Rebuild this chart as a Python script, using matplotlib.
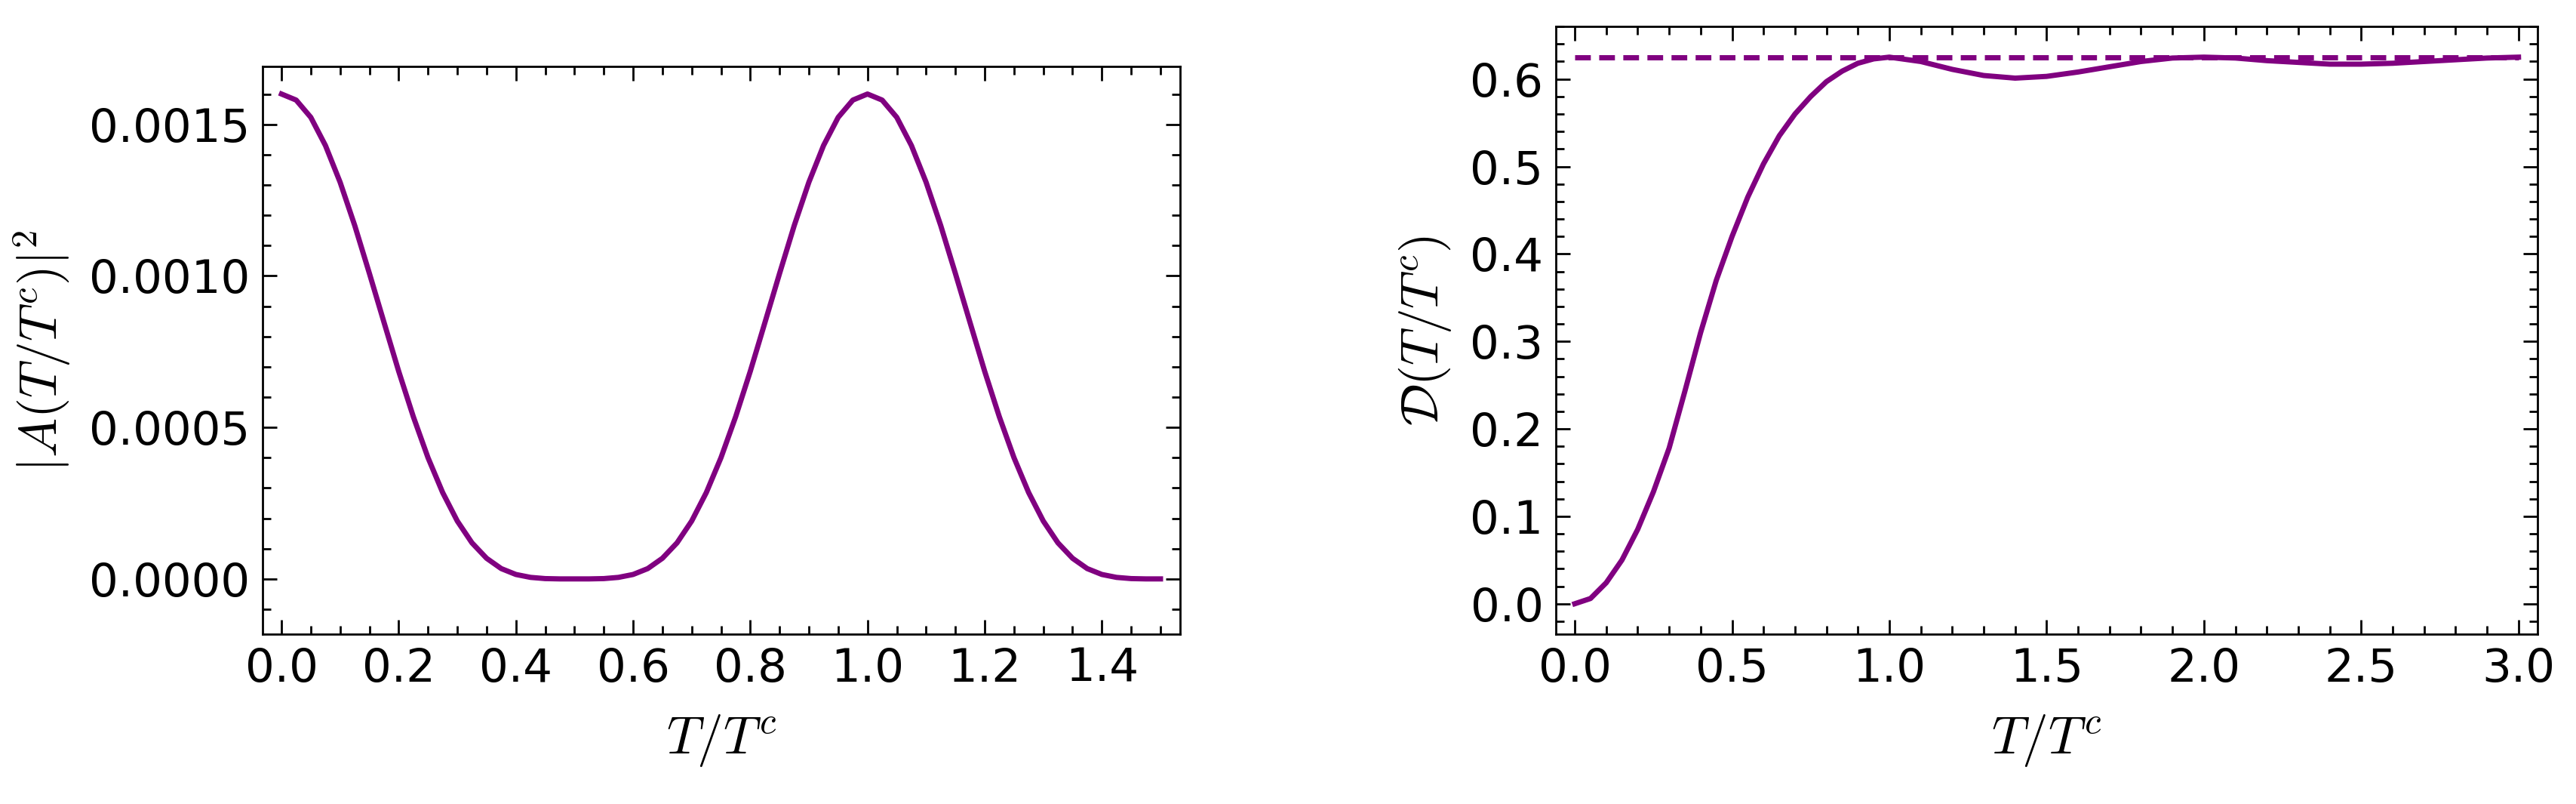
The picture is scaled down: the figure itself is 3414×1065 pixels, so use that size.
import matplotlib
matplotlib.use("Agg")
import matplotlib.pyplot as plt
from matplotlib.ticker import MultipleLocator, FormatStrFormatter

plt.rcParams["font.family"] = ["Liberation Sans Narrow", "DejaVu Sans"]
plt.rcParams["mathtext.fontset"] = "cm"

# left panel: |A(T/T^c)|^2, read off at steps of 0.025 (units of 1e-4)
# one falling half period (0 -> 0.5), the picture repeats it mirrored
half_fall = [16.0, 15.80, 15.23, 14.30, 13.09, 11.66, 10.08, 8.46, 6.85, 5.35, 4.0,
             2.85, 1.91, 1.19, 0.68, 0.34, 0.146, 0.05, 0.01, 0.0, 0.0]
a_left = half_fall + half_fall[::-1][1:] + half_fall[1:]
a_left = [v * 1e-4 for v in a_left]
x_left = [i * 0.025 for i in range(len(a_left))]

# right panel: D(T/T^c)
x_right = [0.0, 0.05, 0.1, 0.15, 0.2, 0.25, 0.3, 0.35, 0.4, 0.45, 0.5, 0.55, 0.6,
           0.65, 0.7, 0.75, 0.8, 0.85, 0.9, 0.95, 1.0,
           1.1, 1.2, 1.3, 1.4, 1.5, 1.6, 1.7, 1.8, 1.9, 2.0,
           2.1, 2.2, 2.3, 2.4, 2.5, 2.6, 2.7, 2.8, 2.9, 3.0]
d_right = [0.0, 0.006, 0.024, 0.05, 0.085, 0.128, 0.178, 0.243, 0.31, 0.37, 0.42, 0.465, 0.503,
           0.535, 0.56, 0.58, 0.597, 0.609, 0.618, 0.623, 0.625,
           0.620, 0.611, 0.604, 0.601, 0.603, 0.608, 0.614, 0.620, 0.624, 0.625,
           0.624, 0.621, 0.619, 0.617, 0.617, 0.618, 0.620, 0.622, 0.624, 0.625]
d_limit = 0.625

purple = "#800080"
fig = plt.figure(figsize=(34.14, 10.65), dpi=100)
ax1 = fig.add_axes([0.102, 0.211, 0.356, 0.706])
ax2 = fig.add_axes([0.604, 0.211, 0.381, 0.756])

ax1.plot(x_left, a_left, color=purple, lw=5)
ax1.set_xlim(-0.032, 1.533)
ax1.set_ylim(-0.000183, 0.00169)
ax1.xaxis.set_major_locator(MultipleLocator(0.2))
ax1.xaxis.set_minor_locator(MultipleLocator(0.05))
ax1.yaxis.set_major_locator(MultipleLocator(0.0005))
ax1.yaxis.set_minor_locator(MultipleLocator(0.0001))
ax1.yaxis.set_major_formatter(FormatStrFormatter("%.4f"))
ax1.xaxis.set_major_formatter(FormatStrFormatter("%.1f"))
ax1.set_xlabel(r"$T/T^c$", fontsize=50, labelpad=20)
ax1.set_ylabel(r"$|A(T/T^c)|^2$", fontsize=50, labelpad=16)

ax2.plot(x_right, d_right, color=purple, lw=5)
ax2.plot([x_right[0], x_right[-1]], [d_limit, d_limit], color=purple, lw=5,
         ls=(0, (3, 1.6)))
ax2.set_xlim(-0.06, 3.06)
ax2.set_ylim(-0.035, 0.66)
ax2.xaxis.set_major_locator(MultipleLocator(0.5))
ax2.xaxis.set_minor_locator(MultipleLocator(0.1))
ax2.yaxis.set_major_locator(MultipleLocator(0.1))
ax2.yaxis.set_minor_locator(MultipleLocator(0.02))
ax2.xaxis.set_major_formatter(FormatStrFormatter("%.1f"))
ax2.yaxis.set_major_formatter(FormatStrFormatter("%.1f"))
ax2.set_xlabel(r"$T/T^c$", fontsize=50, labelpad=20)
ax2.set_ylabel(r"$\mathcal{D}(T/T^c)$", fontsize=50, labelpad=16)

for ax in (ax1, ax2):
    ax.tick_params(which="both", direction="in", top=True, right=True,
                   labelsize=44, width=2, pad=12)
    ax.tick_params(which="major", length=14)
    ax.tick_params(which="minor", length=8)
    for s in ax.spines.values():
        s.set_linewidth(2)

fig.savefig("out.png", dpi=100)
